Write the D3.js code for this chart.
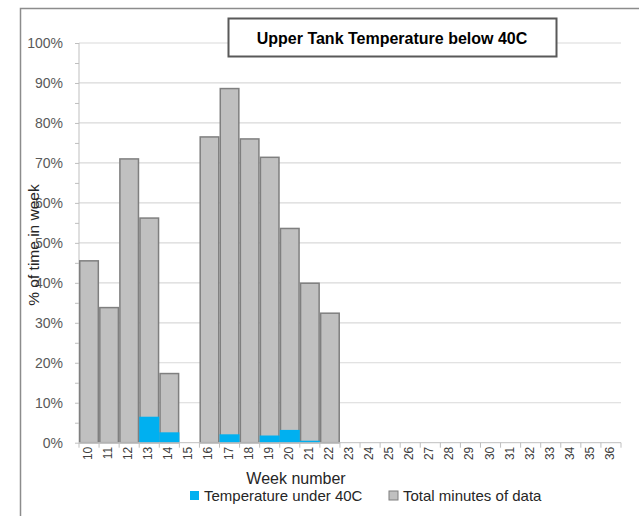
<!DOCTYPE html>
<html>
<head>
<meta charset="utf-8">
<script src="https://cdn.jsdelivr.net/npm/d3@7"></script>
<style>
  body { margin: 0; background: #fff; }
  text { font-family: "Liberation Sans", Arial, sans-serif; }
</style>
</head>
<body>
<svg id="chart" width="639" height="516"></svg>
<script>
`use strict`;

const weeks = d3.range(10, 37).map(String);

// % of week with data (0 where no bar)
const totalMinutes = [45.5, 33.8, 71.0, 56.2, 17.3, 0, 76.5, 88.6, 76.0, 71.4, 53.6, 39.9, 32.4,
  0, 0, 0, 0, 0, 0, 0, 0, 0, 0, 0, 0, 0, 0];

const under40C = [0, 0, 0, 6.5, 2.6, 0, 0, 2.1, 0, 1.8, 3.2, 0.5, 0,
  0, 0, 0, 0, 0, 0, 0, 0, 0, 0, 0, 0, 0, 0];

const yTicks = d3.range(0, 101, 10);

const seriesNames = [`Temperature under 40C`, `Total minutes of data`];

const W = 639, H = 516;
const m = {left: 79, right: 621, top: 43, bottom: 442.7};

let svg = d3.select(`#chart`);

// outer chart border (clipped on the right/bottom like the reference)
svg.append(`path`)
  .attr(`d`, `M20.5,${H} L20.5,8.5 L${W},8.5`)
  .attr(`fill`, `none`)
  .attr(`stroke`, `#8c8c8c`)
  .attr(`stroke-width`, 1.5);

let x = d3.scaleBand().domain(weeks).range([m.left, m.right]).padding(0);
let y = d3.scaleLinear().domain([0, 100]).range([m.bottom, m.top]);

// gridlines
svg.append(`g`).selectAll(`line`).data(yTicks.slice(1))
  .enter().append(`line`)
  .attr(`x1`, m.left).attr(`x2`, m.right)
  .attr(`y1`, d => y(d)).attr(`y2`, d => y(d))
  .attr(`stroke`, `#d9d9d9`).attr(`stroke-width`, 1.2);

// y axis
let yAxis = svg.append(`g`)
  .attr(`transform`, `translate(${m.left},0)`)
  .call(d3.axisLeft(y).tickValues(d3.range(0, 101, 5)).tickSize(4).tickFormat(d => d % 10 === 0 ? d + `%` : ``));
yAxis.select(`.domain`).attr(`stroke`, `#bfbfbf`).attr(`d`, `M0,${m.top}V${m.bottom}`);
yAxis.selectAll(`.tick line`).attr(`stroke`, `#bfbfbf`);
yAxis.selectAll(`.tick text`)
  .attr(`x`, -16)
  .attr(`fill`, `#595959`)
  .style(`font-size`, `14px`);

// bars: total then the under-40C part in front
let bars = svg.append(`g`);
bars.selectAll(`rect.total`).data(weeks.map((w, i) => ({w, v: totalMinutes[i]})).filter(d => d.v > 0))
  .enter().append(`rect`)
  .attr(`class`, `total`)
  .attr(`x`, d => x(d.w) + 0.75)
  .attr(`width`, x.bandwidth() - 1.5)
  .attr(`y`, d => y(d.v))
  .attr(`height`, d => y(0) - y(d.v))
  .attr(`fill`, `#c0c0c0`)
  .attr(`stroke`, `#7f7f7f`)
  .attr(`stroke-width`, 1.5);

bars.selectAll(`rect.under`).data(weeks.map((w, i) => ({w, v: under40C[i]})).filter(d => d.v > 0))
  .enter().append(`rect`)
  .attr(`class`, `under`)
  .attr(`x`, d => x(d.w))
  .attr(`width`, x.bandwidth())
  .attr(`y`, d => y(d.v))
  .attr(`height`, d => y(0) - y(d.v))
  .attr(`fill`, `#00b0f0`);

// x axis
let xAxis = svg.append(`g`)
  .attr(`transform`, `translate(0,${m.bottom})`)
  .call(d3.axisBottom(x).tickSize(0));
xAxis.select(`.domain`).attr(`stroke`, `#bfbfbf`).attr(`d`, `M${m.left},0H${m.right}`);
xAxis.selectAll(`.tick text`)
  .attr(`transform`, `rotate(-90)`)
  .attr(`x`, -4).attr(`y`, 0).attr(`dy`, `0.25em`)
  .attr(`text-anchor`, `end`)
  .attr(`fill`, `#404040`)
  .style(`font-size`, `12px`);

svg.append(`g`).selectAll(`line`).data(weeks.concat([`end`]))
  .enter().append(`line`)
  .attr(`x1`, (d, i) => m.left + i * x.bandwidth())
  .attr(`x2`, (d, i) => m.left + i * x.bandwidth())
  .attr(`y1`, m.bottom).attr(`y2`, m.bottom + 5)
  .attr(`stroke`, `#bfbfbf`);

// axis titles
svg.append(`text`)
  .attr(`x`, 296).attr(`y`, 483.5)
  .attr(`text-anchor`, `middle`)
  .attr(`fill`, `#262626`)
  .style(`font-size`, `16px`)
  .text(`Week number`);

svg.append(`text`)
  .attr(`transform`, `translate(39,245) rotate(-90)`)
  .attr(`text-anchor`, `middle`)
  .attr(`fill`, `#262626`)
  .style(`font-size`, `15.5px`)
  .text(`% of time in week`);

// title box
svg.append(`rect`)
  .attr(`x`, 228.5).attr(`y`, 18.5).attr(`width`, 328).attr(`height`, 38)
  .attr(`fill`, `#fff`).attr(`stroke`, `#595959`).attr(`stroke-width`, 2);
svg.append(`text`)
  .attr(`x`, 392).attr(`y`, 43.5)
  .attr(`text-anchor`, `middle`)
  .attr(`fill`, `#000`)
  .style(`font-size`, `16px`).style(`font-weight`, `bold`)
  .text(`Upper Tank Temperature below 40C`);

// legend
let legendX = [190, 389];
let legend = svg.append(`g`).selectAll(`g`).data(seriesNames)
  .enter().append(`g`)
  .attr(`transform`, (d, i) => `translate(${legendX[i]},501)`);
legend.append(`rect`)
  .attr(`x`, 0).attr(`y`, -10).attr(`width`, 9).attr(`height`, 9)
  .attr(`fill`, (d, i) => i ? `#c0c0c0` : `#00b0f0`)
  .attr(`stroke`, (d, i) => i ? `#7f7f7f` : `none`);
legend.append(`text`)
  .attr(`x`, 14).attr(`y`, 0)
  .attr(`fill`, `#262626`)
  .style(`font-size`, `15px`)
  .text(d => d);
</script>
</body>
</html>
